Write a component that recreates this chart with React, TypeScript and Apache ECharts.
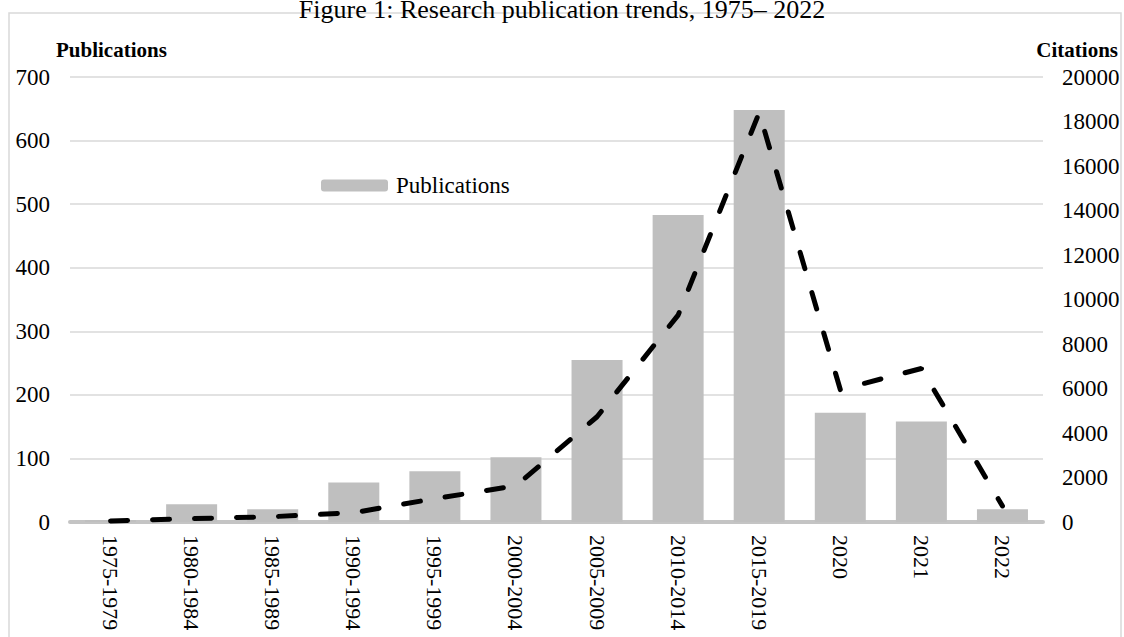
import React, { useEffect, useRef } from "react";
import * as echarts from "echarts";

const categories = [
  "1975-1979", "1980-1984", "1985-1989", "1990-1994", "1995-1999", "2000-2004",
  "2005-2009", "2010-2014", "2015-2019", "2020", "2021", "2022",
];
const publications = [3, 28, 20, 62, 80, 102, 255, 483, 648, 172, 158, 20];
const citations = [50, 150, 240, 420, 1050, 1630, 4730, 9300, 18400, 5950, 6900, 720];
const leftTicks = { min: 0, max: 700, interval: 100 };
const rightTicks = { min: 0, max: 20000, interval: 2000 };

const FONT = "'Liberation Serif', 'Times New Roman', serif";

export default function App() {
  const ref = useRef<HTMLDivElement>(null);
  useEffect(() => {
    if (!ref.current) return;
    const chart = echarts.init(ref.current, null, { renderer: "svg" });
    chart.setOption({
      animation: false,
      backgroundColor: "#ffffff",
      textStyle: { fontFamily: FONT },
      graphic: [
        {
          type: "rect",
          shape: { x: 9, y: 13, width: 1112, height: 700 },
          style: { fill: "none", stroke: "#d9d9d9", lineWidth: 1.5 },
          silent: true,
        },
        {
          type: "text",
          left: "center",
          top: -4,
          style: { text: "Figure 1: Research publication trends, 1975– 2022", font: `26px ${FONT}`, fill: "#000" },
        },
        {
          type: "text",
          x: 56,
          y: 50,
          style: { text: "Publications", font: `bold 21px ${FONT}`, fill: "#000", textVerticalAlign: "middle" },
        },
        {
          type: "text",
          x: 1118,
          y: 50,
          style: { text: "Citations", font: `bold 21px ${FONT}`, fill: "#000", textAlign: "right", textVerticalAlign: "middle" },
        },
      ],
      legend: {
        data: ["Publications"],
        left: 321,
        top: 174,
        padding: 0,
        itemWidth: 67,
        itemHeight: 12,
        textStyle: { fontFamily: FONT, fontSize: 23, color: "#000", padding: [0, 0, 0, 3] },
      },
      grid: { left: 70, right: 81, top: 77, bottom: 115, containLabel: false },
      xAxis: {
        type: "category",
        data: categories,
        axisLine: { show: true, lineStyle: { color: "#c4c4c4", width: 4 } },
        axisTick: { show: false },
        axisLabel: { rotate: -90, interval: 0, margin: 13, fontSize: 22, color: "#000", fontFamily: FONT },
      },
      yAxis: [
        {
          type: "value",
          ...leftTicks,
          axisLine: { show: false },
          axisTick: { show: false },
          splitLine: { show: true, lineStyle: { color: "#d9d9d9", width: 1.5 } },
          axisLabel: { margin: 20, fontSize: 23, color: "#000", fontFamily: FONT },
        },
        {
          type: "value",
          ...rightTicks,
          axisLine: { show: false },
          axisTick: { show: false },
          splitLine: { show: false },
          axisLabel: {
            margin: 19,
            fontSize: 23,
            color: "#000",
            fontFamily: FONT,
            formatter: (v: number) => String(v),
          },
        },
      ],
      series: [
        {
          name: "Publications",
          type: "bar",
          data: publications,
          barWidth: 51,
          itemStyle: { color: "#bfbfbf" },
          z: 2,
        },
        {
          name: "Citations",
          type: "line",
          yAxisIndex: 1,
          data: citations,
          symbol: "none",
          lineStyle: { color: "#000", width: 5, type: [17, 25], cap: "round" },
          z: 3,
        },
      ],
    });
    return () => chart.dispose();
  }, []);
  return (
    <div
      ref={ref}
      style={{ position: "fixed", left: 0, top: 0, width: 1124, height: 637, background: "#fff" }}
    />
  );
}
